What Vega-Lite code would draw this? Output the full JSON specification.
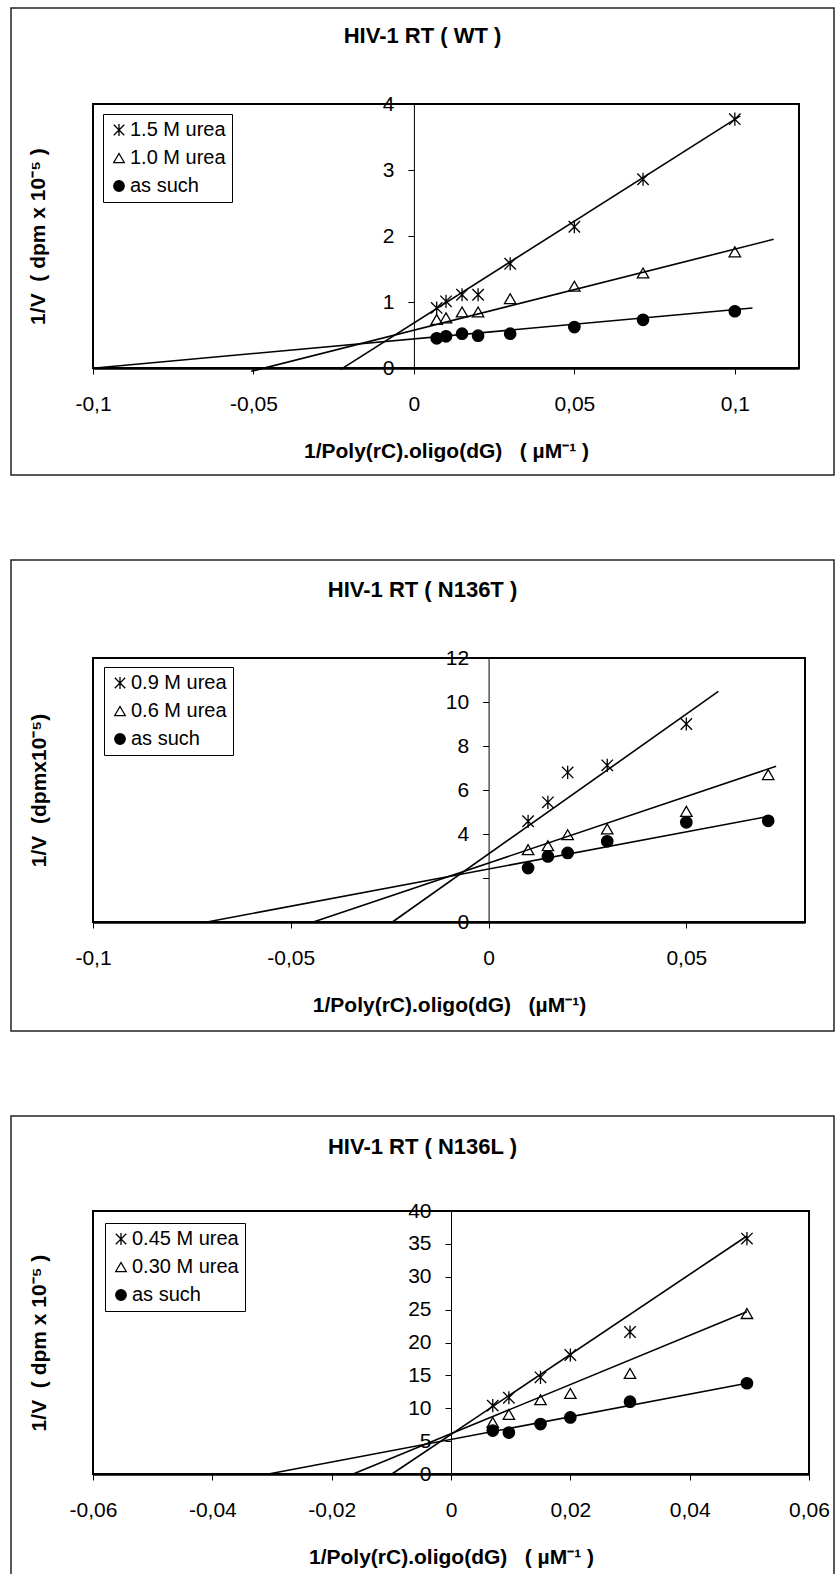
{
  "$schema": "https://vega.github.io/schema/vega-lite/v6.json",
  "background": "white",
  "padding": {"left": 10, "top": 7, "right": 4, "bottom": 0},
  "spacing": 83,
  "datasets": {
    "wt": [
      {"s": "1.5 M urea", "x": 0.0071, "y": 0.91}, {"s": "1.5 M urea", "x": 0.01, "y": 1.01}, {"s": "1.5 M urea", "x": 0.015, "y": 1.11}, {"s": "1.5 M urea", "x": 0.02, "y": 1.11}, {"s": "1.5 M urea", "x": 0.03, "y": 1.58}, {"s": "1.5 M urea", "x": 0.05, "y": 2.14}, {"s": "1.5 M urea", "x": 0.0714, "y": 2.86}, {"s": "1.5 M urea", "x": 0.1, "y": 3.77},
      {"s": "1.0 M urea", "x": 0.0071, "y": 0.735}, {"s": "1.0 M urea", "x": 0.01, "y": 0.76}, {"s": "1.0 M urea", "x": 0.015, "y": 0.85}, {"s": "1.0 M urea", "x": 0.02, "y": 0.85}, {"s": "1.0 M urea", "x": 0.03, "y": 1.05}, {"s": "1.0 M urea", "x": 0.05, "y": 1.24}, {"s": "1.0 M urea", "x": 0.0714, "y": 1.44}, {"s": "1.0 M urea", "x": 0.1, "y": 1.76},
      {"s": "as such", "x": 0.0071, "y": 0.45}, {"s": "as such", "x": 0.01, "y": 0.48}, {"s": "as such", "x": 0.015, "y": 0.52}, {"s": "as such", "x": 0.02, "y": 0.49}, {"s": "as such", "x": 0.03, "y": 0.52}, {"s": "as such", "x": 0.05, "y": 0.62}, {"s": "as such", "x": 0.0714, "y": 0.73}, {"s": "as such", "x": 0.1, "y": 0.86}
    ],
    "wtfit": [
      {"s": "1.5 M urea", "x": -0.0229, "y": -0.025}, {"s": "1.5 M urea", "x": 0.1017, "y": 3.82},
      {"s": "1.0 M urea", "x": -0.0507, "y": -0.05}, {"s": "1.0 M urea", "x": 0.1121, "y": 1.95},
      {"s": "as such", "x": -0.0993, "y": 0}, {"s": "as such", "x": 0.1055, "y": 0.91}
    ],
    "t": [
      {"s": "0.9 M urea", "x": 0.01, "y": 4.58}, {"s": "0.9 M urea", "x": 0.015, "y": 5.44}, {"s": "0.9 M urea", "x": 0.02, "y": 6.8}, {"s": "0.9 M urea", "x": 0.03, "y": 7.12}, {"s": "0.9 M urea", "x": 0.05, "y": 9.0},
      {"s": "0.6 M urea", "x": 0.01, "y": 3.29}, {"s": "0.6 M urea", "x": 0.015, "y": 3.47}, {"s": "0.6 M urea", "x": 0.02, "y": 3.97}, {"s": "0.6 M urea", "x": 0.03, "y": 4.23}, {"s": "0.6 M urea", "x": 0.05, "y": 5.03}, {"s": "0.6 M urea", "x": 0.0707, "y": 6.7},
      {"s": "as such", "x": 0.01, "y": 2.45}, {"s": "as such", "x": 0.015, "y": 2.98}, {"s": "as such", "x": 0.02, "y": 3.14}, {"s": "as such", "x": 0.03, "y": 3.67}, {"s": "as such", "x": 0.05, "y": 4.53}, {"s": "as such", "x": 0.0707, "y": 4.6}
    ],
    "tfit": [
      {"s": "0.9 M urea", "x": -0.0243, "y": 0}, {"s": "0.9 M urea", "x": 0.0581, "y": 10.48},
      {"s": "0.6 M urea", "x": -0.0443, "y": 0}, {"s": "0.6 M urea", "x": 0.0727, "y": 7.08},
      {"s": "as such", "x": -0.0712, "y": 0}, {"s": "as such", "x": 0.0707, "y": 4.8}
    ],
    "l": [
      {"s": "0.45 M urea", "x": 0.007, "y": 10.4}, {"s": "0.45 M urea", "x": 0.0097, "y": 11.6}, {"s": "0.45 M urea", "x": 0.015, "y": 14.7}, {"s": "0.45 M urea", "x": 0.02, "y": 18.1}, {"s": "0.45 M urea", "x": 0.03, "y": 21.6}, {"s": "0.45 M urea", "x": 0.0496, "y": 35.8},
      {"s": "0.30 M urea", "x": 0.007, "y": 7.85}, {"s": "0.30 M urea", "x": 0.0097, "y": 9.06}, {"s": "0.30 M urea", "x": 0.015, "y": 11.3}, {"s": "0.30 M urea", "x": 0.02, "y": 12.25}, {"s": "0.30 M urea", "x": 0.03, "y": 15.3}, {"s": "0.30 M urea", "x": 0.0496, "y": 24.4},
      {"s": "as such", "x": 0.007, "y": 6.6}, {"s": "as such", "x": 0.0097, "y": 6.3}, {"s": "as such", "x": 0.015, "y": 7.6}, {"s": "as such", "x": 0.02, "y": 8.6}, {"s": "as such", "x": 0.03, "y": 11.0}, {"s": "as such", "x": 0.0496, "y": 13.8}
    ],
    "lfit": [
      {"s": "0.45 M urea", "x": -0.0099, "y": 0}, {"s": "0.45 M urea", "x": 0.0496, "y": 36.2},
      {"s": "0.30 M urea", "x": -0.0164, "y": 0}, {"s": "0.30 M urea", "x": 0.0496, "y": 24.66},
      {"s": "as such", "x": -0.0306, "y": 0}, {"s": "as such", "x": 0.0496, "y": 13.8}
    ]
  },
  "vconcat": [
    {
      "width": 823, "height": 467,
      "title": {"text": "HIV-1 RT ( WT )", "offset": -40},
      "layer": [
        {
          "data": {"values": [{}]},
          "mark": {"type": "rect", "filled": false, "stroke": "black", "strokeWidth": 2},
          "encoding": {
            "x": {"datum": -0.1, "type": "quantitative",
              "scale": {"domain": [-0.1, 0.12], "range": [82, 788], "nice": false, "zero": false},
              "axis": {"values": [-0.1, -0.05, 0, 0.05, 0.1], "offset": -107, "title": "1/Poly(rC).oligo(dG)\u00a0\u00a0\u00a0( µM⁻¹ )"}},
            "x2": {"datum": 0.12},
            "y": {"datum": 0, "type": "quantitative",
              "scale": {"domain": [0, 4], "range": [360, 96], "nice": false, "zero": false},
              "axis": {"values": [0, 1, 2, 3, 4], "format": "d", "offset": -402.9, "titleX": -365, "title": "1/V\u00a0\u00a0( dpm x 10⁻⁵ )"}},
            "y2": {"datum": 4}
          }
        },
        {
          "data": {"name": "wtfit"},
          "mark": {"type": "line", "color": "black", "strokeWidth": 1.6, "clip": false},
          "encoding": {
            "x": {"field": "x", "type": "quantitative"},
            "y": {"field": "y", "type": "quantitative"},
            "detail": {"field": "s"}
          }
        },
        {
          "data": {"name": "wt"},
          "mark": {"type": "point", "opacity": 1, "size": 130, "strokeWidth": 1.3},
          "encoding": {
            "x": {"field": "x", "type": "quantitative"},
            "y": {"field": "y", "type": "quantitative"},
            "shape": {"field": "s", "type": "nominal",
              "scale": {"domain": ["1.5 M urea", "1.0 M urea", "as such"], "range": ["M-1,-1L1,1M-1,1L1,-1M0,-1.15L0,1.15", "triangle-up", "circle"]},
              "legend": {"title": null, "orient": "none", "legendX": 92, "legendY": 106}},
            "fill": {"field": "s", "type": "nominal",
              "scale": {"domain": ["1.5 M urea", "1.0 M urea", "as such"], "range": ["transparent", "transparent", "black"]},
              "legend": {"title": null, "orient": "none", "legendX": 92, "legendY": 106}},
            "stroke": {"field": "s", "type": "nominal",
              "scale": {"domain": ["1.5 M urea", "1.0 M urea", "as such"], "range": ["black", "black", "black"]},
              "legend": {"title": null, "orient": "none", "legendX": 92, "legendY": 106}}
          }
        }
      ]
    },
    {
      "width": 823, "height": 471,
      "title": {"text": "HIV-1 RT ( N136T )", "offset": -42},
      "layer": [
        {
          "data": {"values": [{}]},
          "mark": {"type": "rect", "filled": false, "stroke": "black", "strokeWidth": 2},
          "encoding": {
            "x": {"datum": -0.1, "type": "quantitative",
              "scale": {"domain": [-0.1, 0.08], "range": [82, 794], "nice": false, "zero": false},
              "axis": {"values": [-0.1, -0.05, 0, 0.05], "offset": -109, "title": "1/Poly(rC).oligo(dG)\u00a0\u00a0\u00a0(µM⁻¹)"}},
            "x2": {"datum": 0.08},
            "y": {"datum": 0, "type": "quantitative",
              "scale": {"domain": [0, 12], "range": [362, 98], "nice": false, "zero": false},
              "axis": {"values": [0, 2, 4, 6, 8, 10, 12], "format": "d", "offset": -477.6, "titleX": -439.6, "labelExpr": "datum.value == 2 ? '' : datum.label", "title": "1/V\u00a0\u00a0(dpmx10⁻⁵)"}},
            "y2": {"datum": 12}
          }
        },
        {
          "data": {"name": "tfit"},
          "mark": {"type": "line", "color": "black", "strokeWidth": 1.6, "clip": false},
          "encoding": {
            "x": {"field": "x", "type": "quantitative"},
            "y": {"field": "y", "type": "quantitative"},
            "detail": {"field": "s"}
          }
        },
        {
          "data": {"name": "t"},
          "mark": {"type": "point", "opacity": 1, "size": 130, "strokeWidth": 1.3},
          "encoding": {
            "x": {"field": "x", "type": "quantitative"},
            "y": {"field": "y", "type": "quantitative"},
            "shape": {"field": "s", "type": "nominal",
              "scale": {"domain": ["0.9 M urea", "0.6 M urea", "as such"], "range": ["M-1,-1L1,1M-1,1L1,-1M0,-1.15L0,1.15", "triangle-up", "circle"]},
              "legend": {"title": null, "orient": "none", "legendX": 93, "legendY": 107}},
            "fill": {"field": "s", "type": "nominal",
              "scale": {"domain": ["0.9 M urea", "0.6 M urea", "as such"], "range": ["transparent", "transparent", "black"]},
              "legend": {"title": null, "orient": "none", "legendX": 93, "legendY": 107}},
            "stroke": {"field": "s", "type": "nominal",
              "scale": {"domain": ["0.9 M urea", "0.6 M urea", "as such"], "range": ["black", "black", "black"]},
              "legend": {"title": null, "orient": "none", "legendX": 93, "legendY": 107}}
          }
        }
      ]
    },
    {
      "width": 823, "height": 470,
      "title": {"text": "HIV-1 RT ( N136L )", "offset": -43},
      "layer": [
        {
          "data": {"values": [{}]},
          "mark": {"type": "rect", "filled": false, "stroke": "black", "strokeWidth": 2},
          "encoding": {
            "x": {"datum": -0.06, "type": "quantitative",
              "scale": {"domain": [-0.06, 0.06], "range": [82, 798], "nice": false, "zero": false},
              "axis": {"values": [-0.06, -0.04, -0.02, 0, 0.02, 0.04, 0.06], "offset": -112, "title": "1/Poly(rC).oligo(dG)\u00a0\u00a0\u00a0( µM⁻¹ )"}},
            "x2": {"datum": 0.06},
            "y": {"datum": 0, "type": "quantitative",
              "scale": {"domain": [0, 40], "range": [358, 95], "nice": false, "zero": false},
              "axis": {"values": [0, 5, 10, 15, 20, 25, 30, 35, 40], "format": "d", "offset": -440, "titleX": -402, "title": "1/V\u00a0\u00a0( dpm x 10⁻⁵ )"}},
            "y2": {"datum": 40}
          }
        },
        {
          "data": {"name": "lfit"},
          "mark": {"type": "line", "color": "black", "strokeWidth": 1.6, "clip": false},
          "encoding": {
            "x": {"field": "x", "type": "quantitative"},
            "y": {"field": "y", "type": "quantitative"},
            "detail": {"field": "s"}
          }
        },
        {
          "data": {"name": "l"},
          "mark": {"type": "point", "opacity": 1, "size": 130, "strokeWidth": 1.3},
          "encoding": {
            "x": {"field": "x", "type": "quantitative"},
            "y": {"field": "y", "type": "quantitative"},
            "shape": {"field": "s", "type": "nominal",
              "scale": {"domain": ["0.45 M urea", "0.30 M urea", "as such"], "range": ["M-1,-1L1,1M-1,1L1,-1M0,-1.15L0,1.15", "triangle-up", "circle"]},
              "legend": {"title": null, "orient": "none", "legendX": 94, "legendY": 107}},
            "fill": {"field": "s", "type": "nominal",
              "scale": {"domain": ["0.45 M urea", "0.30 M urea", "as such"], "range": ["transparent", "transparent", "black"]},
              "legend": {"title": null, "orient": "none", "legendX": 94, "legendY": 107}},
            "stroke": {"field": "s", "type": "nominal",
              "scale": {"domain": ["0.45 M urea", "0.30 M urea", "as such"], "range": ["black", "black", "black"]},
              "legend": {"title": null, "orient": "none", "legendX": 94, "legendY": 107}}
          }
        }
      ]
    }
  ],
  "resolve": {"scale": {"shape": "independent", "fill": "independent", "stroke": "independent"}, "legend": {"shape": "independent", "fill": "independent", "stroke": "independent"}},
  "config": {
    "view": {"stroke": "#222", "strokeWidth": 1.5},
    "font": "Liberation Sans",
    "title": {"font": "Liberation Sans", "fontSize": 22, "fontWeight": "bold", "color": "black", "anchor": "middle", "baseline": "alphabetic"},
    "axis": {
      "grid": false, "domainColor": "black", "tickColor": "black", "labelColor": "black", "titleColor": "black",
      "labelFont": "Liberation Sans", "labelFontSize": 21, "titleFont": "Liberation Sans", "titleFontSize": 21, "titleFontWeight": "bold",
      "tickSize": 6, "tickWidth": 1, "labelFlush": false, "labelOverlap": false, "labelBound": false
    },
    "axisX": {"domainWidth": 2.5, "labelPadding": 19, "titleY": 72, "titleBaseline": "top",
      "labelExpr": "replace(replace(format(datum.value, '~g'), '.', ','), '\u2212', '-')"},
    "axisY": {"domainWidth": 1, "labelPadding": 14, "titleBaseline": "bottom", "titleAngle": -90},
    "legend": {
      "strokeColor": "black", "fillColor": "white", "padding": 6, "cornerRadius": 0,
      "labelFont": "Liberation Sans", "labelFontSize": 20, "labelColor": "black", "labelOffset": 1,
      "symbolSize": 110, "symbolStrokeWidth": 1.3, "rowPadding": 8
    }
  }
}
